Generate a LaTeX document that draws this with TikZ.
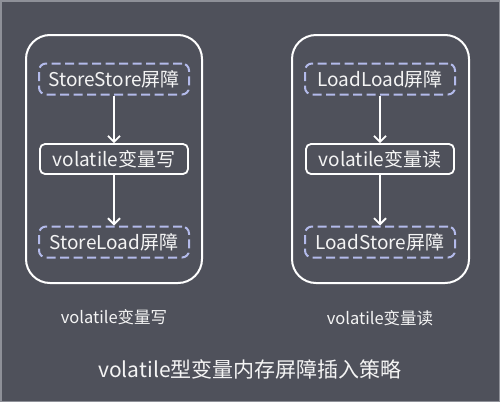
\documentclass[tikz,border=0pt]{standalone}
\usepackage{fontspec}
\setmainfont{Noto Sans CJK SC}
\usetikzlibrary{arrows.meta}
\definecolor{bg}{HTML}{4F515B}
\definecolor{dash}{HTML}{B3BAEA}
\definecolor{txt}{HTML}{F4F4F4}
\definecolor{frame}{HTML}{8E9098}
\tikzset{
  outerbox/.style={draw=white, line width=2pt, rounded corners=24pt},
  dashbox/.style={draw=dash, line width=2pt, dash pattern=on 9pt off 4.5pt, rounded corners=7pt,
    minimum width=150pt, minimum height=31pt, text=txt, font=\fontsize{19pt}{21pt}\selectfont, inner sep=0pt},
  solidbox/.style={draw=white, line width=1.8pt, rounded corners=5pt,
    minimum width=148pt, minimum height=30pt, text=txt, font=\fontsize{19pt}{21pt}\selectfont, inner sep=0pt},
  arr/.style={draw=white, line width=1.8pt, -{Straight Barb[length=6pt,width=12pt,line width=1.8pt]}},
  lbl/.style={text=txt, font=\fontsize{16.5pt}{18pt}\selectfont},
  ttl/.style={text=txt, font=\fontsize{21pt}{24pt}\selectfont}
}
\begin{document}
\begin{tikzpicture}[x=1pt,y=-1pt]
\fill[bg] (0,0) rectangle (500,402);
\useasboundingbox (0,0) rectangle (500,402);
\draw[frame, line width=1.5pt] (0.75,0.75) rectangle (499.25,401.25);
\draw[outerbox] (26,35) rectangle (202,283);
\draw[outerbox] (292,35) rectangle (469,283);
\node[dashbox] (ss) at (114,79) {StoreStore屏障};
\node[solidbox] (vw) at (114,159) {volatile变量写};
\node[dashbox] (sl) at (114,242) {StoreLoad屏障};
\node[dashbox] (ll) at (380,79) {LoadLoad屏障};
\node[solidbox] (vr) at (380,159) {volatile变量读};
\node[dashbox] (ls) at (380,242) {LoadStore屏障};
\draw[arr] (ss) -- (vw);
\draw[arr] (vw) -- (sl);
\draw[arr] (ll) -- (vr);
\draw[arr] (vr) -- (ls);
\node[lbl] (lw) at (114,317) {volatile变量写};
\node[lbl] (lr) at (380,318) {volatile变量读};
\node[ttl] (title) at (250,369) {volatile型变量内存屏障插入策略};
\end{tikzpicture}
\end{document}
